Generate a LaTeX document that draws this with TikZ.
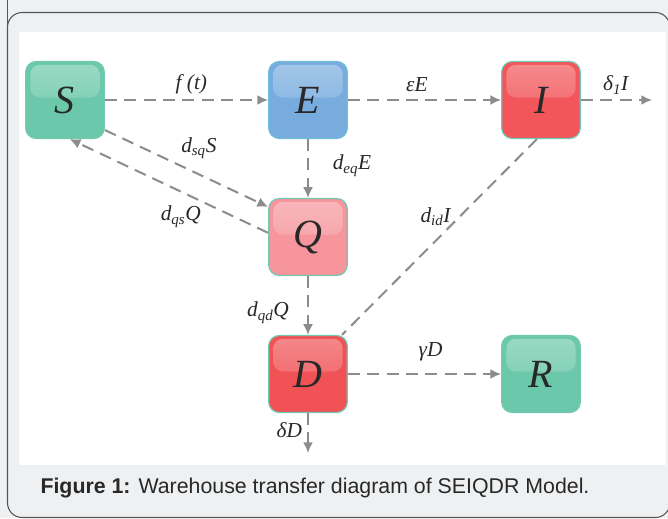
\documentclass[tikz,border=0pt]{standalone}
\usepackage{amsmath}
\usepackage{fontspec}
\usepackage{tikz}
\newfontfamily\capfont{Liberation Sans}
\newfontfamily\symfont{Liberation Serif}
\usetikzlibrary{positioning,arrows.meta}

\definecolor{pagegray}{RGB}{238,240,242}
\definecolor{framegray}{RGB}{85,85,85}
\definecolor{flowgray}{RGB}{140,140,140}
\definecolor{inkgray}{RGB}{40,40,40}
\definecolor{sgreen}{RGB}{108,200,170}
\definecolor{eblue}{RGB}{120,172,222}
\definecolor{ired}{RGB}{242,86,90}
\definecolor{qpink}{RGB}{246,150,156}
\definecolor{dred}{RGB}{240,82,86}
\definecolor{edgeteal}{RGB}{112,200,178}
\definecolor{edgecyan}{RGB}{110,190,215}

\begin{document}
\begin{tikzpicture}[x=0.75pt, y=-0.75pt, >={Latex[length=8pt,width=7.5pt]}, thick,
    comp/.style 2 args={draw=#2, line width=0.9pt, fill=#1, rounded corners=8pt,
        minimum width=59pt, minimum height=57.75pt, inner sep=0pt, text=inkgray,
        font=\symfont\fontsize{30}{30}\selectfont\itshape,
        path picture={\shade[top color=white, bottom color=#1, fill opacity=0.32, rounded corners=7pt]
            ([shift={(3.5pt,-2.5pt)}]path picture bounding box.north west) rectangle
            ([shift={(-3.5pt,-27pt)}]path picture bounding box.north east);}},
    flow/.style={->, flowgray, line width=1.5pt, dash pattern=on 9pt off 5.5pt},
    rate/.style={text=inkgray, font=\symfont\fontsize{16}{19}\selectfont\itshape, inner sep=1pt}]
    \useasboundingbox (0,0) rectangle (668,518);

    % page and frame
    \fill [pagegray] (0,0) rectangle (668,518);
    \draw [framegray, line width=0.8pt] (7.5,0) -- (7.5,30);
    \draw [framegray, line width=0.8pt, rounded corners=11pt] (7.5,12.5) rectangle (670,517.5);
    \fill [white] (19,32) rectangle (666,465);

    % compartments
    \node [comp={sgreen}{edgeteal}] (S) at (65,100) {S};
    \node [comp={eblue}{edgecyan}] (E) [right of=S, node distance=182.25pt] {E};
    \node [comp={ired}{edgeteal}] (I) [right of=E, node distance=174.75pt] {I};
    \node [comp={qpink}{edgeteal}] (Q) [below of=E, node distance=102.75pt] {Q};
    \node [comp={dred}{edgeteal}] (D) [below of=Q, node distance=102.75pt] {D};
    \node [comp={sgreen}{edgeteal}] (R) [right of=D, node distance=174.75pt] {R};
    \coordinate (Iout) at (652,100);
    \coordinate (Dout) at (308,453);

    % flows
    \draw [flow] (S) -- node[rate, pos=0.53, yshift=12pt] {f (t)} (E);
    \draw [flow] (E) -- node[rate, pos=0.45, yshift=11.25pt] {εE} (I);
    \draw [flow] (I) -- node[rate, pos=0.49, yshift=11.25pt] {δ\textsubscript{1}I} (Iout);
    \draw [flow] (E) -- node[rate, pos=0.45, xshift=33pt] {d\textsubscript{eq}E} (Q);
    \draw [flow] (S.-37) -- node[rate, pos=0.576, yshift=19.5pt] {d\textsubscript{sq}S} (Q.143);
    \draw [flow] (Q.174) -- node[rate, pos=0.44, yshift=-19pt] {d\textsubscript{qs}Q} (S.-83);
    \draw [flow] (Q) -- node[rate, pos=0.62, xshift=-30pt] {d\textsubscript{qd}Q} (D);
    \draw [flow, -] (I.-96) -- node[rate, pos=0.52, yshift=18pt] {d\textsubscript{id}I} (D.49);
    \draw [flow] (D) -- node[rate, pos=0.54, yshift=17pt] {γD} (R);
    \draw [flow] (D) -- node[rate, pos=0.43, xshift=-14pt] {δD} (Dout);

    % caption
    \node [anchor=base west, inner sep=0pt, text=inkgray, font=\capfont\fontsize{16}{19}\selectfont] (cap) at (40,493)
        {\textbf{Figure 1:} Warehouse transfer diagram of SEIQDR Model.};
\end{tikzpicture}
\end{document}
